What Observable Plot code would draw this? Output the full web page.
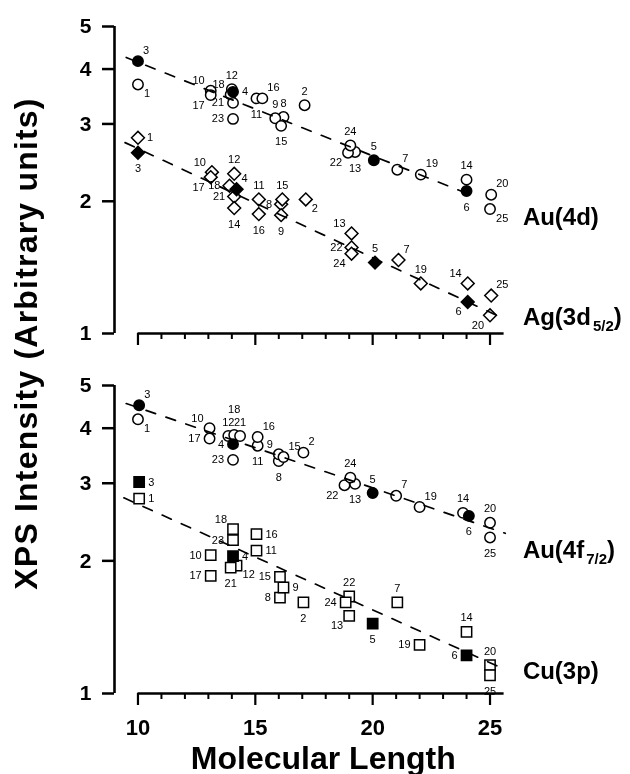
<!DOCTYPE html>
<html><head><meta charset="utf-8">
<script src="https://cdn.jsdelivr.net/npm/d3@7"></script>
<script src="https://cdn.jsdelivr.net/npm/@observablehq/plot@0.6"></script>
<style>
body{margin:0;background:#fff;}
#wrap{position:relative;width:630px;height:774px;overflow:hidden;background:#fff;filter:grayscale(1);}
#wrap > svg{display:block;}
</style></head><body><div id="wrap"></div>
<script>
// ---------------- DATA ----------------
const referenceIds = ["3","4","5","6"];   // filled markers

// Top panel – Au(4d), circles
const au4dIds = ["1","2","3","4","5","6","7","8","9","10","11","12","13","14","15","16","17","18","19","20","21","22","23","24","25"];
const au4dX = [10, 17.1, 10, 14.05, 20.05, 24, 21.05, 16.2, 15.85, 13.1, 15.05, 14.0, 19.25, 24, 16.1, 15.3, 13.1, 13.95, 22.05, 25.05, 14.05, 18.95, 14.05, 19.05, 25];
const au4dY = [3.69, 3.31, 4.17, 3.55, 2.48, 2.11, 2.36, 3.11, 3.09, 3.57, 3.43, 3.60, 2.59, 2.24, 2.97, 3.43, 3.49, 3.50, 2.30, 2.07, 3.35, 2.58, 3.08, 2.68, 1.92];
const au4dLabelDir = ["se","n","ne","e","n","s","ne","n","n","nw","s","n","s","n","s","ne","sw","nw","ne","ne","w","sw","w","n","se"];
const au4dFitX = [9.5, 24.45];
const au4dFitY = [4.25, 2.04];

// Top panel – Ag(3d5/2), diamonds
const agIds = ["1","2","3","4","5","6","7","8","9","10","11","12","13","14","15","16","17","18","19","20","21","22","14","24","25"];
const agX = [10, 17.15, 10, 14.2, 20.1, 24.05, 21.1, 16.1, 16.1, 13.15, 15.15, 14.1, 19.1, 24.05, 16.15, 15.15, 13.1, 13.9, 22.05, 25, 14.1, 19.1, 14.1, 19.1, 25.05];
const agY = [2.79, 2.02, 2.58, 2.13, 1.45, 1.18, 1.47, 1.97, 1.86, 2.33, 2.02, 2.31, 1.69, 1.30, 2.02, 1.87, 2.27, 2.17, 1.30, 1.10, 2.05, 1.57, 1.93, 1.52, 1.22];
const agLabelDir = ["e","se","s","ne","n","sw","ne","w","s","nw","n","n","nw","nw","n","s","sw","w","n","sw","w","w","s","sw","ne"];
const agFitX = [9.45, 25.6];
const agFitY = [2.72, 1.08];

// Bottom panel – Au(4f7/2), circles
const au4fIds = ["1","2","3","4","5","6","7","8","9","10","11","12","13","14","15","16","17","18","19","20","21","22","23","24","25"];
const au4fX = [10, 17.05, 10.05, 14.05, 20, 24.1, 21, 16, 16, 13.05, 15.1, 13.85, 19.25, 23.85, 16.2, 15.1, 13.05, 14.1, 22, 25, 14.35, 18.8, 14.05, 19.05, 25];
const au4fY = [4.19, 3.52, 4.51, 3.68, 2.85, 2.53, 2.81, 3.37, 3.49, 4.00, 3.65, 3.84, 2.99, 2.57, 3.44, 3.82, 3.79, 3.86, 2.65, 2.44, 3.84, 2.97, 3.39, 3.09, 2.26];
const au4fLabelDir = ["se","ne","ne","w","n","s","ne","s","nw","nw","s","n","s","n","ne","ne","w","nn","ne","n","n","sw","w","n","s"];
const au4fFitX = [9.5, 25.65];
const au4fFitY = [4.55, 2.31];

// Bottom panel – Cu(3p), squares
const cuIds = ["1","2","3","4","5","6","7","8","9","10","11","12","13","14","15","16","17","18","19","20","21","22","23","24","25"];
const cuX = [10.05, 17.05, 10.05, 14.05, 20, 24, 21.05, 16.05, 16.2, 13.1, 15.05, 14.2, 19, 24, 16.05, 15.05, 13.1, 14.05, 22, 25, 13.95, 19, 14.05, 18.85, 25];
const cuY = [2.77, 1.61, 3.02, 2.05, 1.44, 1.22, 1.61, 1.65, 1.74, 2.06, 2.11, 1.95, 1.50, 1.38, 1.84, 2.30, 1.85, 2.36, 1.29, 1.16, 1.93, 1.66, 2.23, 1.61, 1.10];
const cuLabelDir = ["e","s","e","e","s","w","n","w","e","w","e","se","sw","n","w","e","w","nw","w","n","s","n","w","w","s"];
const cuFitX = [9.4, 25.7];
const cuFitY = [2.78, 1.13];

// Axes / labels
const yTicks = [1, 2, 3, 4, 5];
const xMajorTicks = [10, 15, 20, 25];
const xMinorTicks = [11, 12, 13, 14, 16, 17, 18, 19, 21, 22, 23, 24];
const topSeriesLabels = ["Au(4d)", "Ag(3d5/2)"];
const topSeriesLabelY = [1.835, 1.087];
const bottomSeriesLabels = ["Au(4f7/2)", "Cu(3p)"];
const bottomSeriesLabelY = [2.11, 1.122];
const seriesLabelX = 26.4;
const subscriptParts = {"Ag(3d5/2)": ["Ag(3d", "5/2", ")"], "Au(4f7/2)": ["Au(4f", "7/2", ")"]};
const xTitle = "Molecular Length";
const yTitle = "XPS Intensity (Arbitrary units)";

// ---------------- BUILD ----------------
const FONT = "'Liberation Sans', Arial, Helvetica, sans-serif";
const rowsOf = (ids, X, Y, D) => ids.map((id, i) => ({id, x: X[i], y: Y[i], dir: D[i], filled: referenceIds.includes(id)}));
const fitOf = (X, Y) => X.map((x, i) => ({x, y: Y[i]}));

const dirs = {
  n: {dx: 0, dy: -14, a: "middle"}, nn: {dx: 0, dy: -26, a: "middle"},
  ne: {dx: 5, dy: -11, a: "start"}, e: {dx: 9, dy: 0, a: "start"},
  se: {dx: 6, dy: 9, a: "start"}, s: {dx: 0, dy: 16, a: "middle"},
  sw: {dx: -6, dy: 10, a: "end"}, w: {dx: -9, dy: 0, a: "end"},
  nw: {dx: -6, dy: -10, a: "end"}
};

function seriesMarks(rows, fit, symbol, r) {
  const open = rows.filter(d => !d.filled), filled = rows.filter(d => d.filled);
  return [
    Plot.dot(open, {x: "x", y: "y", symbol, r, fill: "white", stroke: "black", strokeWidth: 1.5}),
    Plot.dot(filled, {x: "x", y: "y", symbol, r, fill: "black", stroke: "black", strokeWidth: 1.5}),
    Plot.line(fit, {x: "x", y: "y", stroke: "black", strokeWidth: 1.7, strokeDasharray: "10,11"}),
    ...Object.entries(dirs).map(([k, o]) =>
      Plot.text(rows.filter(d => d.dir === k), {x: "x", y: "y", text: "id", dx: o.dx, dy: o.dy,
        textAnchor: o.a, fontSize: 11, fill: "black"}))
  ];
}

function panel({height, marginTop, marginBottom, series, labels, labelY, showXLabels}) {
  const marks = [
    Plot.ruleX([9], {y1: 1, y2: 5, strokeWidth: 2.6, stroke: "black"}),
    Plot.ruleY([1], {x1: 10, x2: 25.6, strokeWidth: 2.6, stroke: "black"}),
    Plot.axisY({ticks: yTicks, tickFormat: d => String(d), tickSize: 12, tickPadding: 11,
      fontSize: 21, fontWeight: "bold", strokeWidth: 2.5, label: null}),
    Plot.axisX({ticks: xMajorTicks, tickSize: 12, tickPadding: 14, strokeWidth: 2.2,
      tickFormat: showXLabels ? (d => String(d)) : (() => ""), fontSize: 22, fontWeight: "bold", label: null}),
    Plot.axisX({ticks: xMinorTicks, tickSize: 6, strokeWidth: 2, tickFormat: () => "", label: null}),
    ...series,
    Plot.text(labels, {x: () => seriesLabelX, y: (d, i) => labelY[i], text: d => d,
      textAnchor: "start", fontSize: 24, fontWeight: "bold", fill: "black"})
  ];
  if (showXLabels) {
    marks.push(Plot.text([xTitle], {frameAnchor: "bottom", dx: 14, dy: 75, text: d => d,
      fontSize: 32, fontWeight: "bold", fill: "black"}));
  }
  const svg = Plot.plot({
    width: 630, height,
    marginLeft: 114, marginRight: 126.4, marginTop, marginBottom,
    x: {domain: [9, 25.6]},
    y: {type: "log", domain: [1, 5]},
    style: {fontFamily: FONT, background: "transparent", overflow: "visible", color: "black"},
    marks
  });
  // subscripts
  svg.querySelectorAll("text").forEach(t => {
    const parts = subscriptParts[t.textContent];
    if (!parts) return;
    while (t.firstChild) t.removeChild(t.firstChild);
    const ns = "http://www.w3.org/2000/svg";
    const a = document.createElementNS(ns, "tspan"); a.textContent = parts[0];
    const b = document.createElementNS(ns, "tspan"); b.textContent = parts[1];
    b.setAttribute("dy", "6"); b.setAttribute("font-size", "15"); b.setAttribute("dx", "2");
    const c = document.createElementNS(ns, "tspan"); c.textContent = parts[2]; c.setAttribute("dy", "-6");
    t.append(a, b, c);
  });
  return svg;
}

const wrap = document.getElementById("wrap");
wrap.appendChild(panel({
  height: 360, marginTop: 26, marginBottom: 27,
  series: [...seriesMarks(rowsOf(agIds, agX, agY, agLabelDir), fitOf(agFitX, agFitY), "diamond2", 5.8),
           ...seriesMarks(rowsOf(au4dIds, au4dX, au4dY, au4dLabelDir), fitOf(au4dFitX, au4dFitY), "circle", 5.2)],
  labels: topSeriesLabels, labelY: topSeriesLabelY, showXLabels: false
}));
wrap.appendChild(panel({
  height: 414, marginTop: 25, marginBottom: 81,
  series: [...seriesMarks(rowsOf(cuIds, cuX, cuY, cuLabelDir), fitOf(cuFitX, cuFitY), "square", 5.8),
           ...seriesMarks(rowsOf(au4fIds, au4fX, au4fY, au4fLabelDir), fitOf(au4fFitX, au4fFitY), "circle", 5.2)],
  labels: bottomSeriesLabels, labelY: bottomSeriesLabelY, showXLabels: true
}));

// y title spanning both panels
const ov = d3.create("svg").attr("width", 630).attr("height", 774)
  .style("position", "absolute").style("left", "0").style("top", "0").style("pointer-events", "none");
ov.append("text").attr("transform", "translate(37,343.5) rotate(-90)")
  .attr("text-anchor", "middle").attr("font-family", FONT).attr("font-weight", "bold")
  .attr("font-size", 32).attr("letter-spacing", "1.2px").attr("fill", "black").text(yTitle);
wrap.appendChild(ov.node());
</script></body></html>
